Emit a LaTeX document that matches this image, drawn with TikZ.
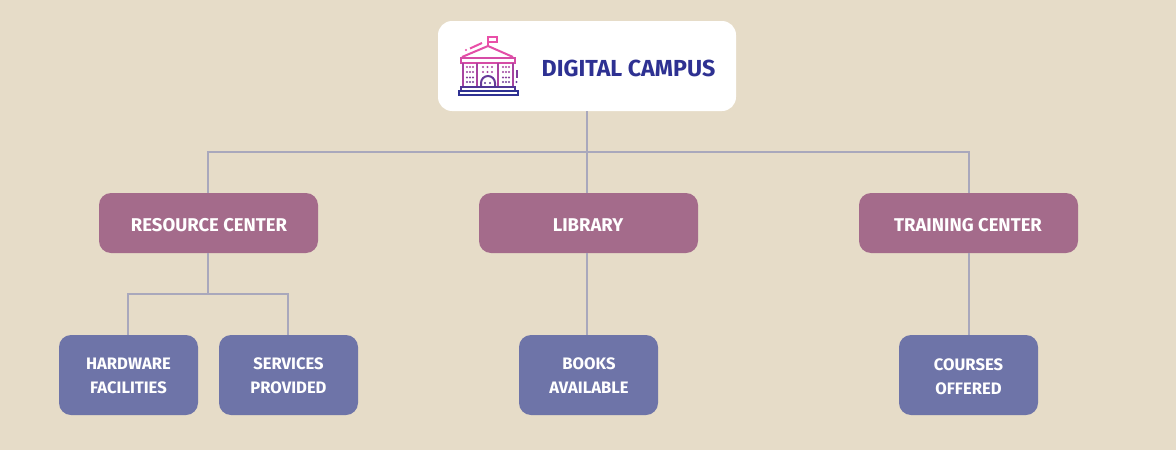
\documentclass[tikz,border=0pt]{standalone}
\usepackage{fontspec}
\setmainfont{Fira Sans}
\definecolor{paper}{HTML}{E6DCC8}
\definecolor{mauve}{HTML}{A46B8B}
\definecolor{slate}{HTML}{6E74A8}
\definecolor{wire}{HTML}{A9A8BC}
\definecolor{ink}{HTML}{2E3192}
\definecolor{rose}{HTML}{E94FA8}
\tikzset{
  topbox/.style={fill=white, rounded corners=14pt, minimum width=298pt, minimum height=90pt},
  midbox/.style={fill=mauve, rounded corners=12pt, minimum width=219pt, minimum height=60pt},
  midlabel/.style={text=white, font=\fontsize{18.5}{20}\selectfont\bfseries},
  lowbox/.style={fill=slate, rounded corners=12pt, minimum width=139pt, minimum height=80pt},
  lowlabel/.style={text=white, align=center, font=\fontsize{16.6}{24}\selectfont\bfseries},
  wirepath/.style={draw=wire, line width=2pt},
  icon/.style={line width=2pt}
}
\begin{document}
\begin{tikzpicture}[x=1pt,y=-1pt]
  \useasboundingbox[fill=paper] (0,0) rectangle (1176,450);
  \node[topbox] (campus) at (587,66) {};
  \node[midbox] (resource) at (208.5,223) {};
  \node[midbox] (library) at (588.5,223) {};
  \node[midbox] (training) at (968.5,223) {};
  \node[lowbox] (hardware) at (128.5,375) {};
  \node[lowbox] (services) at (288.5,375) {};
  \node[lowbox] (books) at (588.5,375) {};
  \node[lowbox] (courses) at (968.5,375) {};
  \node[text=ink, font=\fontsize{23.2}{26}\selectfont\bfseries] (title) at (628.5,68.5) {DIGITAL CAMPUS};
  \node[midlabel] (resourcetext) at (209,225) {RESOURCE CENTER};
  \node[midlabel] (librarytext) at (588,225) {LIBRARY};
  \node[midlabel] (trainingtext) at (968,225) {TRAINING CENTER};
  \node[lowlabel] (hardwaretext) at (128.5,376) {HARDWARE\\FACILITIES};
  \node[lowlabel] (servicestext) at (288.5,376) {SERVICES\\PROVIDED};
  \node[lowlabel] (bookstext) at (589,376) {BOOKS\\AVAILABLE};
  \node[lowlabel] (coursestext) at (968.5,377) {COURSES\\OFFERED};
  % connectors
  \coordinate (hub) at (587,152);
  \coordinate (subhub) at (208,294);
  \coordinate (leftdrop) at (128,335);
  \coordinate (rightdrop) at (288,335);
  \draw[wirepath] (campus.south -| hub) -- (library.north -| hub);
  \draw[wirepath] (resource.north -| 208,0) |- (hub) -| (training.north -| 969,0);
  \draw[wirepath] (resource.south -| subhub) -- (subhub);
  \draw[wirepath] (leftdrop) |- (subhub) -| (rightdrop);
  \draw[wirepath] (library.south -| hub) -- (books.north -| hub);
  \draw[wirepath] (training.south -| 969,0) -- (courses.north -| 969,0);
  % building
  \draw[icon, draw=rose] (488,46) -- (488,37) -- (496.5,37) -- (496.5,42) -- (488,42);
  \draw[icon, draw=rose] (470,48.5) -- (482,43);
  \fill[rose] (466,50) circle (1.1);
  \draw[icon, draw=rose!97!ink] (462,57) -- (488,46) -- (513,57);
  \draw[icon, draw=rose!90!ink] (461,57.5) rectangle (515,62.5);
  \draw[icon, draw=rose!65!ink] (463,63) -- (463,87) (477,63) -- (477,87) (498,63) -- (498,87) (513,63) -- (513,87);
  \draw[icon, draw=rose!30!ink] (481,87) -- (481,83) arc[start angle=180, end angle=360, radius=7] -- (495,87);
  \draw[icon, draw=rose!18!ink] (461,87) rectangle (515,91);
  \draw[icon, draw=ink] (459,91) rectangle (517.5,95);
  \foreach \ix in {467,470,473,503,506,509}
    \foreach \iy/\imix in {67/70,72/60,77.5/48,82/38}
      \fill[rose!\imix!ink] (\ix,\iy) circle (1.1);
  \foreach \ix in {483,487.5,492}
    \fill[rose!65!ink] (\ix,67) circle (1.1) (\ix,72) circle (1.1);
  \fill[rose!25!ink] (485,83) circle (1.1) (490,83) circle (1.1);
  \draw[icon, draw=rose!45!ink] (516.5,70) -- (516.5,78);
  \fill[rose!30!ink] (516.5,82) circle (1.1);
\end{tikzpicture}
\end{document}
